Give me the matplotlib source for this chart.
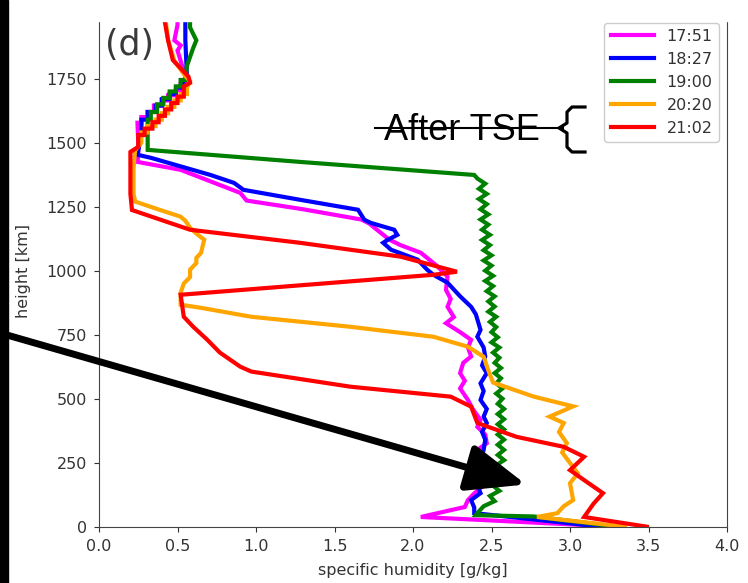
import numpy as np
import matplotlib.pyplot as plt
from matplotlib.patches import Rectangle
from matplotlib.lines import Line2D

times = ["17:51", "18:27", "19:00", "20:20", "21:02"]
colors = ["#ff00ff", "#0000ff", "green", "orange", "red"]

# profiles read top -> bottom: specific humidity [g/kg] and height
q_1751 = [0.50, 0.50, 0.48, 0.52, 0.50, 0.53, 0.55, 0.55, 0.52, 0.52, 0.49, 0.49, 0.44, 0.44,
          0.40, 0.40, 0.35, 0.35, 0.31, 0.31, 0.27, 0.27, 0.245, 0.25, 0.25, 0.245, 0.52, 0.90,
          0.94, 1.30, 1.67, 1.72, 1.77, 1.85, 1.92, 2.05, 2.15, 2.22, 2.21, 2.24, 2.22, 2.26,
          2.21, 2.30, 2.37, 2.35, 2.37, 2.32, 2.30, 2.33, 2.30, 2.35, 2.38, 2.43, 2.41, 2.46,
          2.47, 2.41, 2.41, 2.45, 2.42, 2.44, 2.39, 2.35, 2.33, 2.05, 3.30]
z_1751 = [2000, 1960, 1900, 1880, 1860, 1800, 1760, 1730, 1730, 1705, 1705, 1685, 1685, 1665,
          1665, 1645, 1645, 1620, 1620, 1600, 1600, 1578, 1578, 1500, 1450, 1425, 1394, 1304,
          1274, 1240, 1200, 1185, 1160, 1121, 1100, 1070, 1020, 977, 925, 890, 859, 819,
          795, 760, 730, 700, 665, 640, 600, 570, 540, 495, 460, 417, 390, 360,
          326, 300, 260, 230, 200, 156, 130, 104, 77, 38, 0]

q_1827 = [0.55, 0.55, 0.56, 0.53, 0.53, 0.49, 0.49, 0.45, 0.45, 0.40, 0.40, 0.36, 0.36, 0.31,
          0.31, 0.27, 0.27, 0.26, 0.245, 0.33, 0.71, 0.86, 0.92, 1.28, 1.65, 1.69, 1.73, 1.88,
          1.90, 1.84, 1.81, 1.86, 2.03, 2.09, 2.13, 2.22, 2.30, 2.37, 2.40, 2.43, 2.41, 2.45,
          2.46, 2.44, 2.47, 2.43, 2.45, 2.43, 2.47, 2.45, 2.47, 2.44, 2.46, 2.45, 2.43, 2.46,
          2.43, 2.41, 2.43, 2.37, 2.39, 2.39, 3.20]
z_1827 = [2000, 1900, 1760, 1730, 1715, 1715, 1690, 1690, 1670, 1670, 1645, 1645, 1620, 1620,
          1590, 1590, 1540, 1500, 1453, 1441, 1374, 1343, 1316, 1277, 1238, 1199, 1187, 1160,
          1140, 1121, 1109, 1082, 1043, 1004, 984, 953, 900, 859, 830, 769, 742, 700,
          665, 630, 600, 560, 530, 495, 460, 430, 405, 370, 340, 300, 260, 230,
          195, 160, 131, 104, 75, 53, 0]

q_1900 = [0.58, 0.58, 0.62, 0.60, 0.56, 0.55, 0.52, 0.52, 0.49, 0.49, 0.45, 0.45, 0.41, 0.41,
          0.37, 0.37, 0.33, 0.33, 0.31, 0.31, 0.31, 1.28, 2.39,
          2.41, 2.46, 2.42, 2.47, 2.42, 2.47, 2.43, 2.48, 2.43, 2.48, 2.44, 2.49, 2.44, 2.49,
          2.45, 2.50, 2.45, 2.50, 2.46, 2.51, 2.46, 2.51, 2.47, 2.52, 2.48, 2.52, 2.48, 2.53,
          2.49, 2.53, 2.50, 2.54, 2.50, 2.55, 2.51, 2.55, 2.52, 2.56, 2.52, 2.56, 2.53, 2.57,
          2.53, 2.57, 2.54, 2.58, 2.54, 2.58, 2.54, 2.58, 2.54, 2.58, 2.54, 2.58, 2.54, 2.58,
          2.53, 2.57, 2.52, 2.56, 2.51, 2.55, 2.49, 2.52, 2.45, 2.42, 2.40, 2.77, 3.30]
z_1900 = [2000, 1950, 1900, 1870, 1800, 1745, 1745, 1720, 1720, 1700, 1700, 1675, 1675, 1650,
          1650, 1620, 1620, 1590, 1590, 1510, 1472, 1425, 1374,
          1360, 1340, 1320, 1300, 1280, 1260, 1240, 1220, 1200, 1180, 1160, 1140, 1120, 1100,
          1080, 1060, 1040, 1020, 1000, 980, 960, 940, 920, 900, 880, 860, 840, 820,
          800, 780, 760, 740, 720, 700, 680, 660, 640, 620, 600, 580, 560, 540,
          520, 500, 480, 460, 440, 420, 400, 380, 360, 340, 320, 300, 280, 260,
          240, 220, 200, 180, 160, 140, 120, 100, 80, 60, 45, 40, 0]

q_2020 = [0.42, 0.44, 0.48, 0.55, 0.58, 0.56, 0.56, 0.52, 0.52, 0.48, 0.48, 0.44, 0.44, 0.40,
          0.40, 0.36, 0.36, 0.31, 0.31, 0.27, 0.27, 0.23, 0.22, 0.22, 0.23, 0.40, 0.52, 0.55,
          0.58, 0.62, 0.67, 0.65, 0.62, 0.62, 0.58, 0.58, 0.54, 0.52, 0.52, 0.65, 0.97, 1.60,
          2.13, 2.35, 2.45, 2.48, 2.51, 2.77, 3.02, 2.87, 2.96, 2.93, 2.98, 2.95, 3.05, 3.00,
          3.02, 2.96, 2.92, 2.79, 3.35]
z_2020 = [2000, 1900, 1820, 1760, 1740, 1715, 1690, 1690, 1665, 1665, 1640, 1640, 1615, 1615,
          1590, 1590, 1565, 1565, 1540, 1540, 1500, 1470, 1400, 1300, 1270, 1235, 1211, 1195,
          1168, 1145, 1121, 1070, 1050, 1030, 1004, 975, 950, 914, 867, 855, 820, 781,
          742, 703, 664, 610, 563, 508, 470, 430, 405, 370, 326, 290, 208, 170,
          104, 80, 53, 38, 0]

q_2102 = [0.40, 0.42, 0.44, 0.47, 0.57, 0.58, 0.54, 0.54, 0.50, 0.50, 0.46, 0.46, 0.42, 0.42,
          0.38, 0.38, 0.34, 0.34, 0.29, 0.29, 0.25, 0.25, 0.20, 0.20, 0.20, 0.21, 0.58, 1.28,
          1.92, 2.28, 2.13, 0.52, 0.54, 0.60, 0.69, 0.77, 0.90, 0.97, 1.60, 2.24, 2.37, 2.41,
          2.66, 2.96, 3.09, 3.00, 3.09, 3.21, 3.15, 3.09, 3.49]
z_2102 = [2000, 1970, 1900, 1823, 1758, 1734, 1720, 1680, 1680, 1655, 1655, 1630, 1630, 1605,
          1605, 1580, 1580, 1555, 1555, 1530, 1530, 1484, 1464, 1400, 1300, 1237, 1160, 1109,
          1055, 996, 984, 906, 820, 781, 730, 680, 625, 606, 547, 508, 469, 405,
          351, 312, 273, 221, 182, 131, 90, 38, 0]

profiles = [(q_1751, z_1751), (q_1827, z_1827), (q_1900, z_1900), (q_2020, z_2020), (q_2102, z_2102)]

W, H = 748, 583
fig = plt.figure(figsize=(W / 100, H / 100), dpi=100)
ax = fig.add_axes([99 / W, (H - 526.7) / H, 628 / W, (526.7 - 14.7) / H])

for (q, z), c, t in zip(profiles, colors, times):
    ax.plot(q, z, color=c, lw=3, label=t, solid_joinstyle="miter")

ax.set_xlim(0, 4)
ax.set_ylim(0, 2000)
ax.set_xticks(np.arange(0, 4.01, 0.5))
ax.set_yticks(np.arange(0, 2001, 250))
ax.tick_params(labelsize=11.5, colors="#333333", pad=5)
for s in ax.spines.values():
    s.set_color("#444444")
ax.set_xlabel("specific humidity [g/kg]", fontsize=11.5, color="#333333", labelpad=7)
ax.set_ylabel("height [km]", fontsize=11.5, color="#333333", labelpad=11)

leg = ax.legend(loc="upper right", fontsize=11.5, handlelength=2.7, framealpha=1)
for txt in leg.get_texts():
    txt.set_color("#333333")

fig.text(105 / W, 1 - 45 / H, "(d)", fontsize=25, color="#3a3a3a", va="center")

# annotation overlay
fig.text(384 / W, 1 - 131 / H, "After TSE", fontsize=26, family="Liberation Sans",
         va="center", color="black")
fig.add_artist(Line2D([375 / W, 563 / W], [1 - 128 / H, 1 - 128 / H], color="black", lw=1.5))
bx = [585, 572, 567, 567, 559, 567, 567, 572, 585]
by = [107, 107, 112, 123, 128, 133, 147, 152, 152]
fig.add_artist(Line2D([v / W for v in bx], [1 - v / H for v in by], color="black", lw=2.3))

ax.annotate("", xy=(2.72, 165), xycoords="data", xytext=(0, 1 - 333 / H),
            textcoords="figure fraction",
            arrowprops=dict(arrowstyle="-|>,head_length=3.0,head_width=1.2", mutation_scale=12,
                            lw=5, color="black", shrinkA=0, shrinkB=0))

fig.add_artist(Rectangle((0, 1 - 21 / H), 1, 21 / H, transform=fig.transFigure,
                         color="white", zorder=10))
fig.add_artist(Rectangle((0, 0), 8 / W, 1, transform=fig.transFigure, color="black", zorder=11))

fig.savefig("out.png", dpi=100)
